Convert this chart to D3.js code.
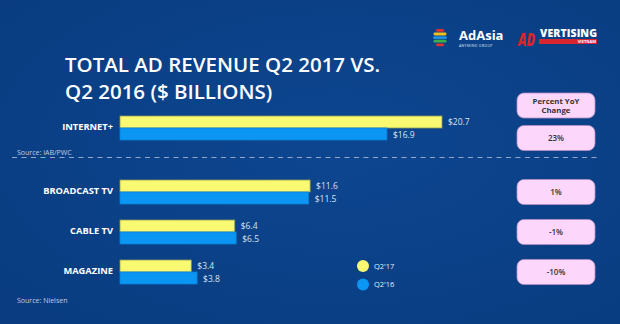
<!DOCTYPE html>
<html>
<head>
<meta charset="utf-8">
<script src="https://cdn.jsdelivr.net/npm/d3@7"></script>
<style>
  body { margin: 0; background: #0b428a; }
  svg { display: block; font-family: "Open Sans", "DejaVu Sans", sans-serif; }
</style>
</head>
<body>
<div id="chart" style="width:620px;height:324px"></div>
<script>
const seriesNames = ["Q2'17", "Q2'16"];
const topCategories = ['INTERNET+'];
const bottomCategories = ['BROADCAST TV', 'CABLE TV', 'MAGAZINE'];
const q217 = { 'INTERNET+': 20.7, 'BROADCAST TV': 11.6, 'CABLE TV': 6.4, 'MAGAZINE': 3.4 };
const q216 = { 'INTERNET+': 16.9, 'BROADCAST TV': 11.5, 'CABLE TV': 6.5, 'MAGAZINE': 3.8 };
const yoyChange = { 'INTERNET+': '23%', 'BROADCAST TV': '1%', 'CABLE TV': '-1%', 'MAGAZINE': '-10%' };
const sources = ['Source: IAB/PWC', 'Source: Nielsen'];

const W = 620, H = 324;
const colors = { "Q2'17": '#fafa72', "Q2'16": '#0c96f4' };
const strokes = { "Q2'17": '#8d9a5c', "Q2'16": '#0a7fd4' };

const svg = d3.select('#chart').append('svg').attr('width', W).attr('height', H);

// background
const defs = svg.append('defs');
const grad = defs.append('radialGradient').attr('id', 'bg').attr('cx', '55%').attr('cy', '45%').attr('r', '75%');
grad.append('stop').attr('offset', '0%').attr('stop-color', '#0d4690');
grad.append('stop').attr('offset', '100%').attr('stop-color', '#093c80');
svg.append('rect').attr('width', W).attr('height', H).attr('fill', 'url(#bg)');

// title
const title = svg.append('text').attr('x', 65).attr('y', 72)
  .attr('fill', '#fff').attr('font-size', 20.5).attr('font-weight', 600);
title.append('tspan').attr('x', 65).text('TOTAL AD REVENUE Q2 2017 VS.');
title.append('tspan').attr('x', 65).attr('dy', 27).text('Q2 2016 ($ BILLIONS)');

// logos
const logo = svg.append('g');
const stripeCols = ['#e2312d', '#f4c21a', '#1f8fe0', '#3cb04a', '#e2312d'];
const stripeW = [8, 13, 14, 13, 8];
stripeCols.forEach((c, i) => {
  logo.append('rect').attr('x', 440 - stripeW[i] / 2).attr('y', 29 + i * 3.6)
    .attr('width', stripeW[i]).attr('height', 2.8).attr('rx', 1.4).attr('fill', c);
});
logo.append('text').attr('x', 459).attr('y', 40).attr('fill', '#fff')
  .attr('font-size', 13).attr('font-weight', 700).text('AdAsia');
logo.append('text').attr('x', 459).attr('y', 46.5).attr('fill', '#dfe6f2')
  .attr('font-size', 3.6).attr('letter-spacing', 0.3).text('ANYMIND GROUP');
logo.append('text').attr('x', 518).attr('y', 46).attr('fill', '#d9252d')
  .attr('font-size', 17).attr('font-weight', 800).attr('font-style', 'italic')
  .attr('textLength', 17).attr('lengthAdjust', 'spacingAndGlyphs').text('AD');
logo.append('text').attr('x', 540).attr('y', 37).attr('fill', '#fff')
  .attr('font-size', 10.5).attr('font-weight', 800).attr('textLength', 57).text('VERTISING');
logo.append('rect').attr('x', 539).attr('y', 39).attr('width', 58).attr('height', 5).attr('fill', '#d9252d');
logo.append('text').attr('x', 596).attr('y', 43.3).attr('fill', '#fff')
  .attr('font-size', 4).attr('font-weight', 700).attr('text-anchor', 'end').text('VIETNAM');

// scales: bars in the infographic start with a short stub, not at zero
const x = d3.scaleLinear()
  .domain([0, d3.max(topCategories.concat(bottomCategories), c => Math.max(q217[c], q216[c]))])
  .range([22, 322]);
const barLeft = 120;

const yTop = d3.scaleBand().domain(topCategories).range([108, 148]).paddingInner(0.4).paddingOuter(0.2);
const yBottom = d3.scaleBand().domain(bottomCategories).range([172, 292]).paddingInner(0.4).paddingOuter(0.2);
const ySub = d3.scaleBand().domain(seriesNames).range([0, yTop.bandwidth()]);

function drawSection(cats, y, boxOffset) {
  const g = svg.append('g');
  const groups = g.selectAll('.grp').data(cats).join('g')
    .attr('transform', d => 'translate(0,' + y(d) + ')');

  groups.append('text')
    .attr('x', 113).attr('y', y.bandwidth() / 2 - 1)
    .attr('dy', '0.35em').attr('text-anchor', 'end')
    .attr('fill', '#fff').attr('font-size', 9.3).attr('font-weight', 700)
    .text(d => d);

  seriesNames.forEach(s => {
    const vals = s === "Q2'17" ? q217 : q216;
    groups.append('rect')
      .attr('x', barLeft).attr('y', ySub(s))
      .attr('width', d => x(vals[d])).attr('height', ySub.bandwidth())
      .attr('fill', colors[s]).attr('stroke', strokes[s]).attr('stroke-width', 0.8);
    groups.append('text')
      .attr('x', d => barLeft + x(vals[d]) + 6)
      .attr('y', ySub(s) + ySub.bandwidth() / 2 + (s === "Q2'16" ? 1 : 0))
      .attr('dy', '0.35em').attr('fill', '#dbe3f0').attr('font-size', 8.5)
      .text(d => '$' + vals[d]);
  });

  const box = groups.append('g')
    .attr('transform', 'translate(517,' + (y.bandwidth() / 2 + boxOffset - 12.5) + ')');
  box.append('rect').attr('width', 78).attr('height', 25).attr('rx', 7)
    .attr('fill', '#fcd6fb').attr('stroke', '#b48fc4').attr('stroke-width', 0.8);
  box.append('text').attr('x', 39).attr('y', 12.5).attr('dy', '0.35em')
    .attr('text-anchor', 'middle').attr('fill', '#333').attr('font-size', 8)
    .attr('font-weight', 600).text(d => yoyChange[d]);
}

drawSection(topCategories, yTop, 10);
drawSection(bottomCategories, yBottom, 0);

// header box
const hdr = svg.append('g').attr('transform', 'translate(517,93)');
hdr.append('rect').attr('width', 78).attr('height', 25).attr('rx', 7)
  .attr('fill', '#fcd6fb').attr('stroke', '#b48fc4').attr('stroke-width', 0.8);
hdr.append('text').attr('x', 39).attr('y', 11).attr('text-anchor', 'middle')
  .attr('fill', '#333').attr('font-size', 7.8).attr('font-weight', 700).text('Percent YoY');
hdr.append('text').attr('x', 39).attr('y', 20).attr('text-anchor', 'middle')
  .attr('fill', '#333').attr('font-size', 7.8).attr('font-weight', 700).text('Change');

// divider and sources
svg.append('line').attr('x1', 12).attr('x2', 600).attr('y1', 157.5).attr('y2', 157.5)
  .attr('stroke', '#93a9cb').attr('stroke-width', 1.2).attr('stroke-dasharray', '5,4.5');
svg.append('text').attr('x', 17).attr('y', 154.5).attr('fill', '#c0cce0')
  .attr('font-size', 7).text(sources[0]);
svg.append('text').attr('x', 17).attr('y', 302.5).attr('fill', '#c0cce0')
  .attr('font-size', 7).text(sources[1]);

// legend
const legend = svg.append('g').attr('transform', 'translate(363,266)');
const li = legend.selectAll('g').data(seriesNames).join('g')
  .attr('transform', (d, i) => 'translate(0,' + i * 18.5 + ')');
li.append('circle').attr('r', 6).attr('fill', d => colors[d]);
li.append('text').attr('x', 11).attr('dy', '0.35em').attr('fill', '#e8eef8')
  .attr('font-size', 7.5).text(d => d);
</script>
</body>
</html>
